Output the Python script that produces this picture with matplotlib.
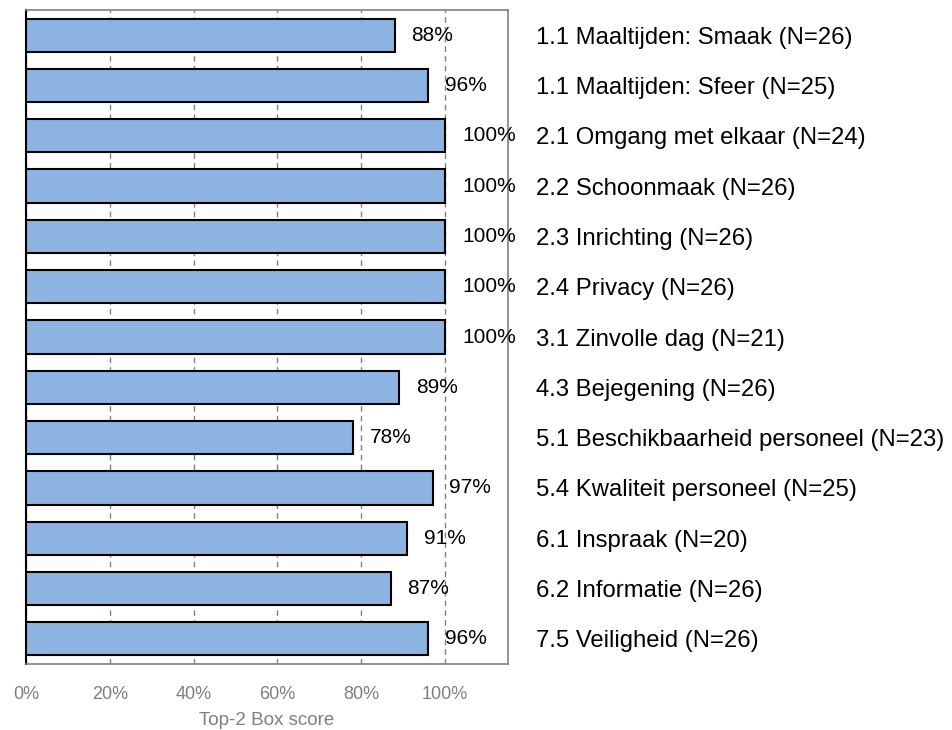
import matplotlib.pyplot as plt
from matplotlib.ticker import FuncFormatter

categories = [
    "1.1 Maaltijden: Smaak (N=26)",
    "1.1 Maaltijden: Sfeer (N=25)",
    "2.1 Omgang met elkaar (N=24)",
    "2.2 Schoonmaak (N=26)",
    "2.3 Inrichting (N=26)",
    "2.4 Privacy (N=26)",
    "3.1 Zinvolle dag (N=21)",
    "4.3 Bejegening (N=26)",
    "5.1 Beschikbaarheid personeel (N=23)",
    "5.4 Kwaliteit personeel (N=25)",
    "6.1 Inspraak (N=20)",
    "6.2 Informatie (N=26)",
    "7.5 Veiligheid (N=26)",
]
scores = [88, 96, 100, 100, 100, 100, 100, 89, 78, 97, 91, 87, 96]
xticks = [0, 20, 40, 60, 80, 100]

plt.rcParams['font.family'] = ['Liberation Sans', 'DejaVu Sans']

fig = plt.figure(figsize=(9.53, 7.3), dpi=100)
ax = fig.add_axes([26 / 953, 66 / 730, 482 / 953, 654 / 730])

pos = list(range(len(categories)))
ax.barh(pos, scores, height=0.66, color='#8db3e2', edgecolor='black',
        linewidth=1.5, zorder=3)

# value labels just outside the bar ends
for y, v in zip(pos, scores):
    ax.text(v + 4, y, f"{v}%", va='center', ha='left', fontsize=15,
            color='black', zorder=4)

ax.set_xlim(0, 115)
ax.set_ylim(len(categories) - 0.5, -0.5)

ax.set_xticks(xticks)
ax.xaxis.set_major_formatter(FuncFormatter(lambda x, _: f"{x:.0f}%"))
ax.tick_params(axis='x', length=0, pad=16, labelsize=13, labelcolor='#7f7f7f')
ax.grid(axis='x', color='#808080', linestyle=(0, (4, 3)), linewidth=1, zorder=0)

ax.yaxis.tick_right()
ax.set_yticks(pos)
ax.set_yticklabels(categories)
ax.tick_params(axis='y', length=0, pad=20, labelsize=17.2)

ax.set_xlabel("Top-2 Box score", fontsize=13.5, color='#7f7f7f', labelpad=6)

for side in ['top', 'right', 'bottom']:
    ax.spines[side].set_color('#808080')
    ax.spines[side].set_linewidth(1.2)
ax.spines['left'].set_color('black')
ax.spines['left'].set_linewidth(1.5)

fig.savefig('out.png', dpi=100)
